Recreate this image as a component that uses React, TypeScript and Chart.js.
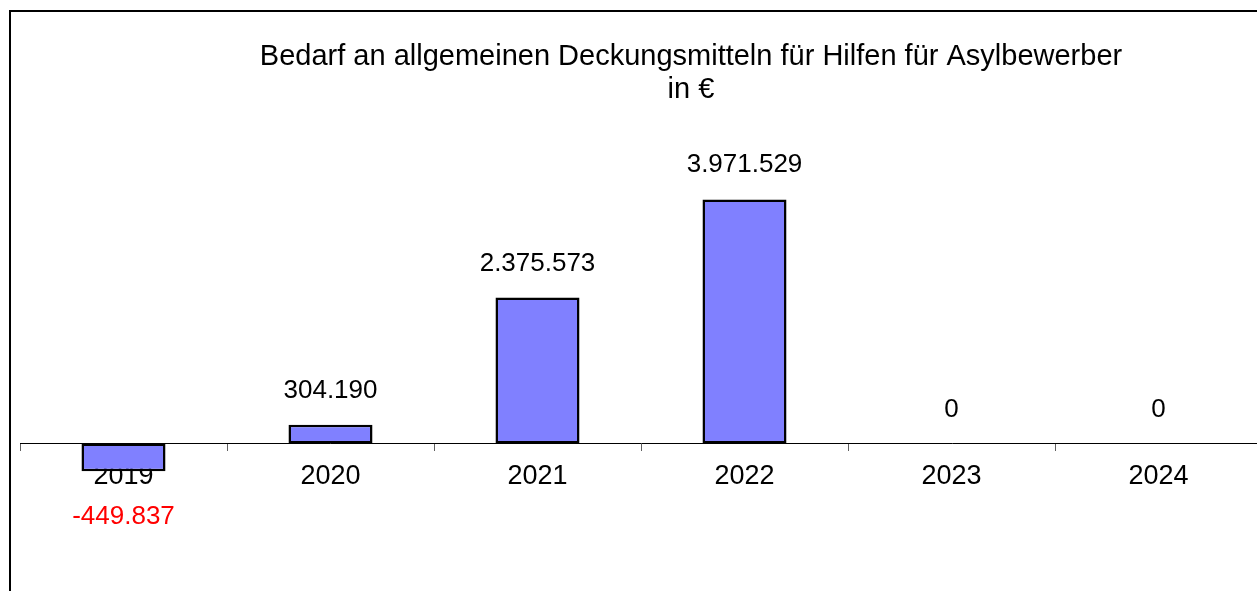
import React, { useEffect, useRef } from "react";
import { Chart, registerables } from "chart.js";

Chart.register(...registerables);

const years: string[] = ["2019", "2020", "2021", "2022", "2023", "2024"];
const values: number[] = [-449837, 304190, 2375573, 3971529, 0, 0];
const titleLines: string[] = [
  "Bedarf an allgemeinen Deckungsmitteln für Hilfen für Asylbewerber",
  "in €",
];

const FONT = "'Liberation Sans', Arial, sans-serif";

function fmt(v: number): string {
  const s = Math.abs(v).toString().replace(/\B(?=(\d{3})+(?!\d))/g, ".");
  return (v < 0 ? "-" : "") + s;
}

const labelPlugin = {
  id: "customText",
  afterDatasetsDraw(chart: any) {
    const ctx = chart.ctx;
    ctx.save();
    ctx.textAlign = "center";
    ctx.textBaseline = "alphabetic";
    // title
    ctx.font = `29px ${FONT}`;
    ctx.fillStyle = "#000";
    ctx.fillText(titleLines[0], 680, 53);
    ctx.fillText(titleLines[1], 680, 86);
    // data labels
    ctx.font = `26px ${FONT}`;
    const meta = chart.getDatasetMeta(0);
    meta.data.forEach((el: any, i: number) => {
      const v = values[i];
      if (v < 0) {
        ctx.fillStyle = "#FF0000";
        ctx.fillText(fmt(v), el.x, el.y + 53);
      } else {
        ctx.fillStyle = "#000";
        ctx.fillText(fmt(v), el.x, el.y - 27);
      }
    });
    ctx.restore();
  },
};

export default function App() {
  const ref = useRef<HTMLCanvasElement | null>(null);
  useEffect(() => {
    if (!ref.current) return;
    const chart = new Chart(ref.current, {
      type: "bar",
      data: {
        labels: years,
        datasets: [
          {
            data: values,
            backgroundColor: "#8080FF",
            borderColor: "#000000",
            borderWidth: values.map((v) => (v === 0 ? 0 : 2.5)),
            borderSkipped: false,
            categoryPercentage: 0.406,
            barPercentage: 1,
          },
        ],
      },
      options: {
        animation: false,
        responsive: false,
        devicePixelRatio: 1,
        layout: { padding: { left: 9, right: 9, top: 185.74, bottom: 24.62 } },
        plugins: {
          legend: { display: false },
          title: { display: false },
          tooltip: { enabled: false },
        },
        scales: {
          x: {
            axis: "x",
            position: { y: 0 } as any,
            offset: true,
            ticks: {
              color: "#000",
              font: { family: FONT, size: 27 },
              padding: 10,
              maxRotation: 0,
              autoSkip: false,
            },
            grid: {
              display: true,
              drawOnChartArea: false,
              drawTicks: true,
              tickLength: 7,
              color: "#606060",
              offset: true,
            },
            border: { display: true, color: "#000", width: 1 },
          },
          y: {
            display: false,
            min: -2000000,
            max: 4000000,
          },
        },
      },
      plugins: [labelPlugin],
    } as any);
    return () => chart.destroy();
  }, []);
  return (
    <div
      style={{
        position: "fixed",
        left: 9,
        top: 10,
        width: 1248,
        height: 581,
        boxSizing: "border-box",
        borderLeft: "2px solid #000",
        borderTop: "2px solid #000",
        overflow: "hidden",
        background: "#fff",
      }}
    >
      <canvas
        ref={ref}
        width={1260}
        height={579}
        style={{ position: "absolute", left: 0, top: 0, width: 1260, height: 579 }}
      />
    </div>
  );
}
